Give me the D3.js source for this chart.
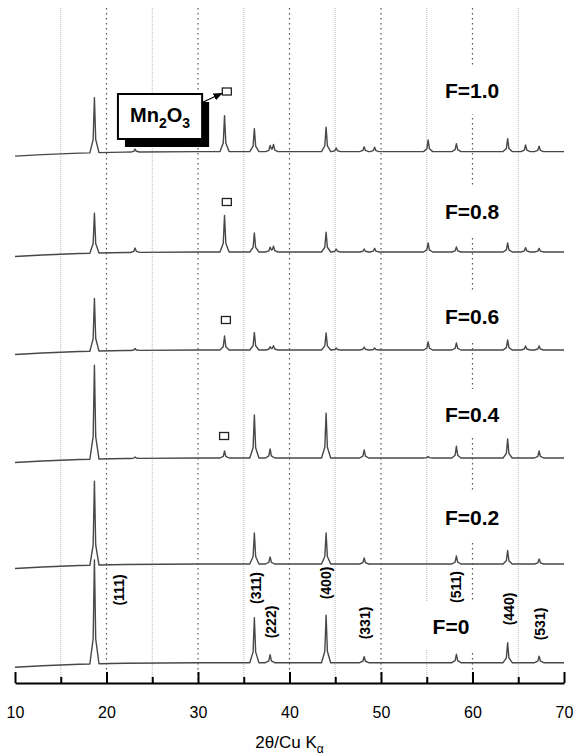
<!DOCTYPE html>
<html>
<head>
<meta charset="utf-8">
<script src="https://cdn.jsdelivr.net/npm/d3@7"></script>
<style>
  html, body { margin: 0; padding: 0; background: #fff; }
  svg { display: block; font-family: "Liberation Sans", Arial, sans-serif; }
</style>
</head>
<body>
<svg id="chart" width="576" height="755"></svg>
<script>
// XRD patterns (2θ, Cu Kα) of the samples, stacked bottom (F=0) to top (F=1.0)
const samples = ["F=0", "F=0.2", "F=0.4", "F=0.6", "F=0.8", "F=1.0"];
// Flat background level of each stacked pattern (a.u.)
const baselines = [203, 1190, 2250, 3330, 4310, 5314];

// Reflection positions (2θ, deg): spinel + Mn2O3 lines
const peakPositions = [18.68, 23.12, 32.9, 36.16, 37.88, 38.25, 44.0, 45.1, 48.16, 49.3, 55.15, 58.24, 63.84, 65.8, 67.28];
// Peak heights above background (a.u.), one value per reflection
const intF00 = [1040, 0, 0, 450, 80, 0, 476, 0, 60, 0, 0, 84, 200, 0, 66];
const intF02 = [840, 0, 0, 310, 70, 0, 310, 0, 60, 0, 0, 80, 135, 0, 50];
const intF04 = [940, 15, 70, 430, 90, 0, 447, 0, 80, 0, 15, 117, 190, 0, 70];
const intF06 = [526, 20, 140, 175, 30, 40, 170, 20, 30, 20, 80, 70, 100, 40, 40];
const intF08 = [400, 44, 366, 190, 44, 55, 198, 30, 30, 37, 90, 50, 90, 44, 37];
const intF10 = [550, 30, 360, 230, 55, 66, 245, 37, 48, 44, 117, 80, 130, 66, 55];
const intensities = [intF00, intF02, intF04, intF06, intF08, intF10];

// Low-angle background rise (2θ, a.u. relative to the flat level)
const bgTheta = [10, 13, 17, 22, 30, 70];
const bgLevel = [-45, -30, -15, -5, 0, 0];

// Miller indices of the spinel reflections marked on the F=0 pattern
const hklLabels = ["(111)", "(311)", "(222)", "(400)", "(331)", "(511)", "(440)", "(531)"];
const hklTheta = [21.37, 36.3, 37.95, 44.05, 48.3, 58.2, 63.95, 67.4];
const hklLevel = [930, 950, 610, 1000, 600, 960, 740, 590];

// Sample label anchors (2θ, a.u.)
const labelTheta = [57.65, 59.95, 59.95, 59.95, 59.95, 59.95];
const labelLevel = [490, 1580, 2610, 3590, 4640, 5850];

// Mn2O3 reflection markers (2θ, a.u.)
const markerTheta = [32.85, 33.05, 33.15, 33.15];
const markerLevel = [2470, 3630, 4810, 5915];

// Axis ticks
const majorTicks = [10, 20, 30, 40, 50, 60, 70];
const minorTicks = [15, 25, 35, 45, 55, 65];

const svg = d3.select("#chart");
const x = d3.scaleLinear().domain([10, 70]).range([15, 564]);
const y = d3.scaleLinear().domain([0, 6750]).range([683, 8]);

// Vertical reference lines
const grid = svg.append("g");
grid.selectAll("line.minor").data(minorTicks).join("line")
  .attr("class", "minor")
  .attr("x1", d => x(d)).attr("x2", d => x(d))
  .attr("y1", y(6750)).attr("y2", y(0))
  .attr("stroke", "#bbb").attr("stroke-width", 1).attr("stroke-dasharray", "1,1");
grid.selectAll("line.major").data(majorTicks.slice(1, -1)).join("line")
  .attr("class", "major")
  .attr("x1", d => x(d)).attr("x2", d => x(d))
  .attr("y1", y(6750)).attr("y2", y(0))
  .attr("stroke", "#555").attr("stroke-width", 1.2).attr("stroke-dasharray", "1.5,3.5");

// Sample labels on white panels
const labelG = svg.append("g");
samples.forEach((s, i) => {
  const t = labelG.append("text")
    .attr("x", x(labelTheta[i])).attr("y", y(labelLevel[i]))
    .attr("text-anchor", "middle")
    .attr("font-size", 21).attr("font-weight", "bold")
    .text(s);
  const bb = t.node().getBBox();
  labelG.insert("rect", "text")
    .attr("x", bb.x - 12).attr("y", bb.y - 14)
    .attr("width", bb.width + 24).attr("height", bb.height + 26)
    .attr("fill", "#fff");
});

// Pattern profile: each reflection is drawn as a sharp peak of the given height
const shape = [[-0.5, 0], [-0.14, 0.24], [0, 1], [0.14, 0.24], [0.5, 0]];
function profile(heights) {
  const knots = new Set(bgTheta);
  peakPositions.forEach((p, j) => {
    if (heights[j] > 0) shape.forEach(k => knots.add(+(p + k[0]).toFixed(3)));
  });
  const xs = Array.from(knots).filter(v => v >= 10 && v <= 70).sort((a, b) => a - b);
  const bg = d3.scaleLinear().domain(bgTheta).range(bgLevel);
  return xs.map(t => {
    let v = bg(t);
    peakPositions.forEach((p, j) => {
      const h = heights[j];
      if (!h) return;
      const dx = t - p;
      for (let k = 0; k < shape.length - 1; k++) {
        const a = shape[k], b = shape[k + 1];
        if (dx >= a[0] && dx <= b[0]) {
          v += h * (a[1] + (b[1] - a[1]) * (dx - a[0]) / (b[0] - a[0]));
          break;
        }
      }
    });
    return [t, v];
  });
}

const line = d3.line().x(d => x(d[0])).y(d => y(d[1]));
svg.append("g").selectAll("path").data(intensities).join("path")
  .attr("d", (h, i) => line(profile(h).map(d => [d[0], d[1] + baselines[i]])))
  .attr("fill", "none").attr("stroke", "#484848").attr("stroke-width", 1.4)
  .attr("stroke-linejoin", "round");

// Mn2O3 markers
svg.append("g").selectAll("rect").data(markerTheta).join("rect")
  .attr("x", d => x(d) - 4.5).attr("y", (d, i) => y(markerLevel[i]) - 3.5)
  .attr("width", 9).attr("height", 7)
  .attr("fill", "#fff").attr("stroke", "#222").attr("stroke-width", 1.3);

// Mn2O3 callout box with drop shadow
const box = { t0: 21.25, t1: 30.45, lo: 5440, hi: 5890 };
const callout = svg.append("g");
callout.append("rect")
  .attr("x", x(box.t0) + 7).attr("y", y(box.hi) + 8)
  .attr("width", x(box.t1) - x(box.t0)).attr("height", y(box.lo) - y(box.hi))
  .attr("fill", "#000");
callout.append("rect")
  .attr("x", x(box.t0)).attr("y", y(box.hi))
  .attr("width", x(box.t1) - x(box.t0)).attr("height", y(box.lo) - y(box.hi))
  .attr("fill", "#fff").attr("stroke", "#000").attr("stroke-width", 2);
const mn = callout.append("text")
  .attr("x", (x(box.t0) + x(box.t1)) / 2).attr("y", y(box.lo) - 17)
  .attr("text-anchor", "middle").attr("font-size", 20).attr("font-weight", "bold");
mn.append("tspan").text("Mn");
mn.append("tspan").attr("font-size", 14).attr("dy", 6).text("2");
mn.append("tspan").attr("dy", -6).text("O");
mn.append("tspan").attr("font-size", 14).attr("dy", 6).text("3");

svg.append("defs").append("marker")
  .attr("id", "arrow").attr("viewBox", "0 0 10 10")
  .attr("refX", 9).attr("refY", 5)
  .attr("markerWidth", 7).attr("markerHeight", 7)
  .attr("orient", "auto")
  .append("path").attr("d", "M0,1 L10,5 L0,9 Z").attr("fill", "#000");
callout.append("line")
  .attr("x1", x(box.t1) + 1).attr("y1", y(box.hi) + 8)
  .attr("x2", x(markerTheta[3]) - 5).attr("y2", y(markerLevel[3]) + 2)
  .attr("stroke", "#000").attr("stroke-width", 1.3)
  .attr("marker-end", "url(#arrow)");

// hkl labels (rotated)
svg.append("g").selectAll("text").data(hklLabels).join("text")
  .attr("transform", (d, i) => `translate(${x(hklTheta[i])},${y(hklLevel[i])}) rotate(-90)`)
  .attr("text-anchor", "middle").attr("dy", "0.35em")
  .attr("font-size", 14).attr("font-weight", "bold")
  .text(d => d);

// Bottom axis: ticks point up into the plot
const axisG = svg.append("g").attr("transform", `translate(0,${y(0)})`);
axisG.call(d3.axisBottom(x).tickValues(majorTicks).tickSize(-11).tickSizeOuter(0).tickPadding(24)
  .tickFormat(d3.format("d")));
axisG.append("g").call(d3.axisBottom(x).tickValues(minorTicks).tickSize(-6).tickSizeOuter(0).tickFormat(""))
  .select(".domain").remove();
axisG.selectAll("path, line").attr("stroke", "#000").attr("stroke-width", 2);
axisG.selectAll("text").attr("font-size", 16).attr("fill", "#000")
  .attr("font-family", "'Liberation Sans', Arial, sans-serif");

// Axis title
const title = svg.append("text")
  .attr("x", x(40)).attr("y", 748)
  .attr("text-anchor", "middle").attr("font-size", 17);
title.append("tspan").text("2θ/Cu K");
title.append("tspan").attr("font-size", 12).attr("dy", 5).text("α");
</script>
</body>
</html>
